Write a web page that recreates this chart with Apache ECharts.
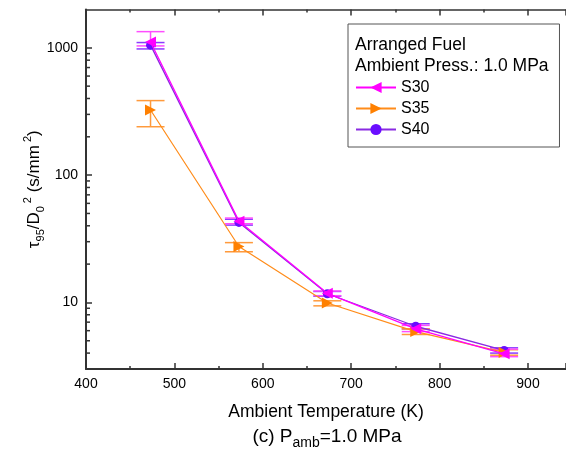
<!DOCTYPE html>
<html>
<head>
<meta charset="utf-8">
<script src="https://cdn.jsdelivr.net/npm/echarts@6/dist/echarts.min.js"></script>
<style>html,body{margin:0;padding:0;background:#fff}#c{width:566px;height:450px}</style>
</head>
<body>
<div id="c"></div>
<script>
// ---- data ----
var temps = [473, 573, 673, 773, 873];
var s30 = [1110, 43.5, 11.8, 6.2, 3.95];
var s30Lo = [1035, 41.5, 11.3, 5.9, 3.75];
var s30Hi = [1340, 46, 12.3, 6.6, 4.3];
var s35 = [325, 27.5, 9.9, 5.9, 4.05];
var s35Lo = [240, 25, 9.4, 5.6, 3.85];
var s35Hi = [385, 29.5, 10.3, 6.2, 4.25];
var s40 = [1050, 42.5, 11.7, 6.5, 4.2];
var s40Lo = [980, 40.5, 11.2, 6.2, 4.0];
var s40Hi = [1100, 45, 12.2, 6.8, 4.4];
var seriesNames = ['S30', 'S35', 'S40'];
var yMajorTicks = [10, 100, 1000];
var yMinorTicks = [3, 4, 5, 6, 7, 8, 9, 20, 30, 40, 50, 60, 70, 80, 90, 200, 300, 400, 500, 600, 700, 800, 900];
var xMin = 400, xMax = 943;

var FONT = 'Liberation Sans, Arial, sans-serif';

function pairs(xs, ys) { return xs.map(function (x, i) { return [x, ys[i]]; }); }
function errData(xs, lo, hi) { return xs.map(function (x, i) { return [x, lo[i], hi[i]]; }); }

function errSeries(name, data, color) {
  return {
    name: name, type: 'custom', data: data, z: 2, silent: true,
    encode: { x: 0, y: [1, 2] },
    renderItem: function (params, api) {
      var x = api.value(0);
      var lo = api.coord([x, api.value(1)]);
      var hi = api.coord([x, api.value(2)]);
      var hw = 14;
      var st = { stroke: color, lineWidth: 1.5 };
      return { type: 'group', children: [
        { type: 'line', shape: { x1: lo[0], y1: lo[1], x2: hi[0], y2: hi[1] }, style: st },
        { type: 'line', shape: { x1: lo[0] - hw, y1: lo[1], x2: lo[0] + hw, y2: lo[1] }, style: st },
        { type: 'line', shape: { x1: hi[0] - hw, y1: hi[1], x2: hi[0] + hw, y2: hi[1] }, style: st }
      ] };
    }
  };
}

var chart = echarts.init(document.getElementById('c'), null, { renderer: 'canvas' });
chart.setOption({
  backgroundColor: '#fff',
  animation: false,
  textStyle: { fontFamily: FONT },
  grid: { left: 86, right: -1, top: 9.5, bottom: 81 },
  title: [{
    text: 'Arranged Fuel\nAmbient Press.: 1.0 MPa',
    left: 355, top: 34, padding: 0,
    textStyle: { fontFamily: FONT, fontSize: 17.5, fontWeight: 'normal', color: '#000', lineHeight: 21.5 }
  }, {
    text: '{a|(c) P}{s|amb}{a|=1.0 MPa}',
    left: 327, top: 424, textAlign: 'center', padding: 0,
    textStyle: { fontFamily: FONT, fontWeight: 'normal', rich: {
      a: { fontFamily: FONT, fontSize: 19, color: '#000', lineHeight: 26, verticalAlign: 'middle' },
      s: { fontFamily: FONT, fontSize: 14, color: '#000', lineHeight: 14, verticalAlign: 'bottom' }
    } }
  }],
  legend: {
    data: seriesNames, orient: 'vertical', left: 348, top: 24,
    padding: [55, 130, 9, 7], itemGap: 4, itemWidth: 40, itemHeight: 14,
    borderColor: '#555', borderWidth: 1, backgroundColor: '#fff',
    textStyle: { fontFamily: FONT, fontSize: 16, color: '#000', lineHeight: 17 }
  },
  xAxis: [{
    type: 'value', min: xMin, max: xMax, interval: 100,
    name: 'Ambient Temperature (K)', nameLocation: 'middle', nameGap: 34,
    nameTextStyle: { fontFamily: FONT, fontSize: 17.5, color: '#000' },
    axisLine: { show: true, onZero: false, lineStyle: { color: '#333', width: 2 } },
    axisTick: { show: true, inside: true, length: 6, lineStyle: { color: '#333', width: 1.5 } },
    minorTick: { show: true, splitNumber: 2, length: 3, lineStyle: { color: '#333', width: 1.5 } },
    axisLabel: { fontFamily: FONT, fontSize: 14, color: '#000', margin: 8, showMaxLabel: false },
    splitLine: { show: false }
  }, {
    type: 'value', position: 'top', min: xMin, max: xMax, interval: 100,
    axisLine: { show: true, onZero: false, lineStyle: { color: '#333', width: 1.5 } },
    axisTick: { show: true, inside: true, length: 6, lineStyle: { color: '#333', width: 1.5 } },
    minorTick: { show: true, splitNumber: 2, length: 3, lineStyle: { color: '#333', width: 1.5 } },
    axisLabel: { show: false }, splitLine: { show: false }
  }],
  yAxis: {
    type: 'log', logBase: 10, min: 3, max: 2000,
    name: '{a|τ}{s|95}{a|/D}{s|0}{p|2}{a| (s/mm}{p|2}{a|)}',
    nameLocation: 'middle', nameGap: 40, nameRotate: 90, nameMoveOverlap: false,
    nameTextStyle: { fontFamily: FONT, rich: {
      a: { fontFamily: FONT, fontSize: 17, color: '#000', lineHeight: 24 },
      s: { fontFamily: FONT, fontSize: 11, color: '#000', lineHeight: 11, verticalAlign: 'bottom' },
      p: { fontFamily: FONT, fontSize: 11, color: '#000', lineHeight: 11, verticalAlign: 'top', padding: [0, 0, 0, 3] }
    } },
    axisLine: { show: true, onZero: false, lineStyle: { color: '#333', width: 2 } },
    axisTick: { show: true, inside: true, length: 6, lineStyle: { color: '#333', width: 1.5 } },
    axisLabel: { fontFamily: FONT, fontSize: 14, color: '#000', margin: 8, showMinLabel: false, showMaxLabel: false,
      formatter: function (v) { return yMajorTicks.indexOf(Math.round(v)) >= 0 ? String(Math.round(v)) : ''; } },
    splitLine: { show: false }
  },
  series: [
    {
      name: 'yMinor', type: 'custom', silent: true, z: 10,
      data: yMinorTicks.map(function (v) { return [xMin, v]; }),
      encode: { x: 0, y: 1 },
      renderItem: function (params, api) {
        var p = api.coord([api.value(0), api.value(1)]);
        return { type: 'line', shape: { x1: p[0], y1: p[1], x2: p[0] + 4, y2: p[1] }, style: { stroke: '#333', lineWidth: 1.5 } };
      }
    },
    errSeries('S40 err', errData(temps, s40Lo, s40Hi), '#8a3cff'),
    errSeries('S35 err', errData(temps, s35Lo, s35Hi), '#ff9a3c'),
    errSeries('S30 err', errData(temps, s30Lo, s30Hi), '#ff4dff'),
    {
      name: 'S40', type: 'line', data: pairs(temps, s40), z: 3,
      symbol: 'circle', symbolSize: 9,
      lineStyle: { color: '#8a2be2', width: 1.3 },
      itemStyle: { color: '#6a0dff' }
    },
    {
      name: 'S35', type: 'line', data: pairs(temps, s35), z: 4,
      symbol: 'triangle', symbolSize: 11, symbolRotate: -90,
      lineStyle: { color: '#ff8c1a', width: 1.2 },
      itemStyle: { color: '#ff8000' }
    },
    {
      name: 'S30', type: 'line', data: pairs(temps, s30), z: 5,
      symbol: 'triangle', symbolSize: 11, symbolRotate: 90,
      lineStyle: { color: '#ff00ff', width: 1.3 },
      itemStyle: { color: '#ff00ff' }
    }
  ]
});
</script>
</body>
</html>
